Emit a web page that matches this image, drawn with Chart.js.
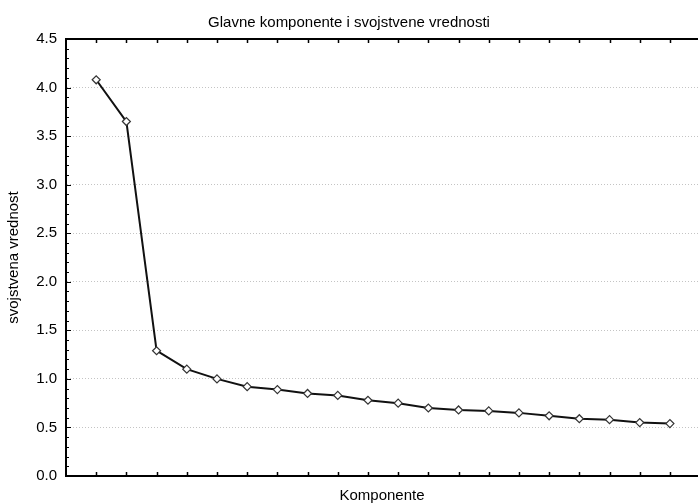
<!DOCTYPE html>
<html>
<head>
<meta charset="utf-8">
<title>Glavne komponente i svojstvene vrednosti</title>
<script src="https://cdn.jsdelivr.net/npm/chart.js"></script>
<style>
  html, body { margin: 0; padding: 0; background: #fff; }
  canvas { display: block; }
</style>
</head>
<body>
<canvas id="scree" width="698" height="503"></canvas>
<script>
// Podaci (ocitano sa slike)
const komponente = [1, 2, 3, 4, 5, 6, 7, 8, 9, 10, 11, 12, 13, 14, 15, 16, 17, 18, 19, 20];
const vrednosti = [4.08, 3.65, 1.29, 1.10, 1.00, 0.92, 0.89, 0.85, 0.83, 0.78,
                   0.75, 0.70, 0.68, 0.67, 0.65, 0.62, 0.59, 0.58, 0.55, 0.54];
const yOznake = [0, 0.5, 1, 1.5, 2, 2.5, 3, 3.5, 4, 4.5];

const font = "'Liberation Sans', Arial, sans-serif";

// Unutrasnje crtice na osama i gornja ivica
const crticePlugin = {
    id: 'crtice',
    afterDraw(chart) {
        const ctx = chart.ctx;
        const area = chart.chartArea;
        const x = chart.scales.x;
        const y = chart.scales.y;
        ctx.save();
        ctx.strokeStyle = '#000';
        ctx.lineWidth = 2;
        ctx.beginPath();
        ctx.moveTo(area.left - 1, area.top);
        ctx.lineTo(chart.width, area.top);
        ctx.stroke();

        ctx.lineWidth = 1.5;
        ctx.beginPath();
        for (let i = 1; i <= 20; i++) {
            const px = Math.round(x.getPixelForValue(i)) + 0.5;
            ctx.moveTo(px, area.bottom);
            ctx.lineTo(px, area.bottom - 4);
            ctx.moveTo(px, area.top);
            ctx.lineTo(px, area.top + 4);
        }
        ctx.stroke();

        ctx.lineWidth = 1;
        ctx.beginPath();
        for (let k = 1; k < 45; k++) {
            const py = Math.round(y.getPixelForValue(k / 10)) + 0.5;
            const duz = (k % 5 === 0) ? 5 : 3;
            ctx.moveTo(area.left, py);
            ctx.lineTo(area.left + duz, py);
        }
        ctx.stroke();
        ctx.restore();
    }
};

new Chart(document.getElementById('scree').getContext('2d'), {
    type: 'line',
    data: {
        datasets: [{
            label: 'svojstvena vrednost',
            data: komponente.map((k, i) => ({ x: k, y: vrednosti[i] })),
            borderColor: '#111',
            borderWidth: 2,
            pointStyle: 'rectRot',
            pointRadius: 4,
            pointBorderWidth: 1.2,
            pointBorderColor: '#333',
            pointBackgroundColor: '#fff',
            tension: 0
        }]
    },
    options: {
        responsive: false,
        animation: false,
        layout: { padding: 0, autoPadding: false },
        plugins: {
            legend: { display: false },
            tooltip: { enabled: false },
            title: {
                display: true,
                text: 'Glavne komponente i svojstvene vrednosti',
                color: '#000',
                font: { family: font, size: 15, weight: 'normal', lineHeight: 1.2 },
                padding: { top: 14, bottom: 7 }
            }
        },
        scales: {
            x: {
                type: 'linear',
                min: 0,
                max: 20.93,
                grid: { display: false, drawTicks: false },
                border: { color: '#000', width: 2 },
                ticks: { display: false },
                title: {
                    display: true,
                    text: 'Komponente',
                    color: '#000',
                    font: { family: font, size: 15, lineHeight: 1 },
                    padding: { top: 0, bottom: 0 }
                },
                afterFit(scale) { scale.height = 27; }
            },
            y: {
                min: 0,
                max: 4.5,
                afterBuildTicks(scale) {
                    scale.ticks = yOznake.map(v => ({ value: v }));
                },
                grid: {
                    color: '#c4c4c4',
                    lineWidth: 1,
                    drawTicks: false
                },
                border: { color: '#000', width: 2, dash: [1, 2] },
                ticks: {
                    color: '#000',
                    padding: 9,
                    font: { family: font, size: 15 },
                    callback: v => Number(v).toFixed(1)
                },
                title: {
                    display: true,
                    text: 'svojstvena vrednost',
                    color: '#000',
                    font: { family: font, size: 15, lineHeight: 1.2 },
                    padding: { top: 5, bottom: 0 }
                },
                afterFit(scale) { scale.width = 66; }
            }
        }
    },
    plugins: [crticePlugin]
});
</script>
</body>
</html>
